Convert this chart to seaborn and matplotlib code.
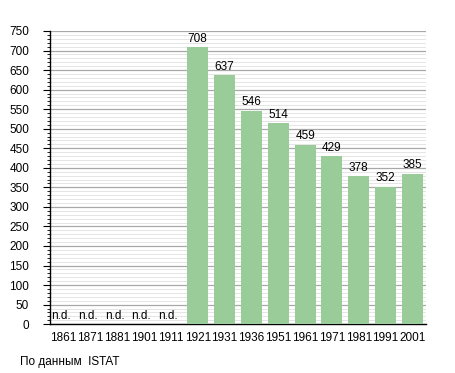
import numpy as np
import pandas as pd
import matplotlib
matplotlib.use("Agg")
import matplotlib.pyplot as plt
from matplotlib.ticker import MultipleLocator
import seaborn as sns

# данные переписей (n.d. = нет данных)
years = ["1861", "1871", "1881", "1901", "1911", "1921", "1931",
         "1936", "1951", "1961", "1971", "1981", "1991", "2001"]
population = [np.nan, np.nan, np.nan, np.nan, np.nan, 708, 637,
              546, 514, 459, 429, 378, 352, 385]

df = pd.DataFrame({"year": years, "pop": population})

sns.set_style("white")
plt.rcParams["font.family"] = ["Liberation Sans", "DejaVu Sans"]
plt.rcParams["text.color"] = "black"
plt.rcParams["xtick.color"] = "black"
plt.rcParams["ytick.color"] = "black"

fig = plt.figure(figsize=(4.55, 3.73), dpi=100)
ax = fig.add_axes([0.110, 0.131, 0.826, 0.786])

sns.barplot(data=df, x="year", y="pop", order=years, color="#99cc99",
            saturation=1, width=0.78, edgecolor="none", ax=ax, zorder=3)

ax.set_ylim(0, 750)
ax.set_xlim(-0.5, len(years) - 0.5)
ax.yaxis.set_major_locator(MultipleLocator(50))
ax.yaxis.set_minor_locator(MultipleLocator(10))
ax.grid(which="major", axis="y", color="#a8a8a8", linewidth=0.9, zorder=0)
ax.grid(which="minor", axis="y", color="#e0e0e0", linewidth=0.6, zorder=0)
ax.set_axisbelow(True)

for s in ["top", "right"]:
    ax.spines[s].set_visible(False)
ax.spines["left"].set_color("black")
ax.spines["bottom"].set_color("black")
ax.spines["left"].set_linewidth(1)
ax.spines["bottom"].set_linewidth(1)

ax.tick_params(axis="y", which="major", left=True, length=5, width=0.8,
               labelsize=8.5, pad=10, labelcolor="black")
ax.tick_params(axis="y", which="minor", left=True, length=2.5, width=0.6)
ax.tick_params(axis="x", bottom=False, labelsize=8.5, pad=2, labelcolor="black")
ax.set_xlabel("")
ax.set_ylabel("")

# подписи над столбцами
for i, v in enumerate(population):
    if np.isnan(v):
        ax.text(i - 0.1, 6, "n.d.", ha="center", va="bottom", fontsize=8.5,
                color="black")
    else:
        ax.text(i, v + 6, str(int(v)), ha="center", va="bottom", fontsize=8.5,
                color="black")

fig.text(20 / 455, 1 - 362 / 373, "По данным  ISTAT", fontsize=8.5,
         ha="left", va="center", color="black")

plt.savefig("out.png", dpi=100)
